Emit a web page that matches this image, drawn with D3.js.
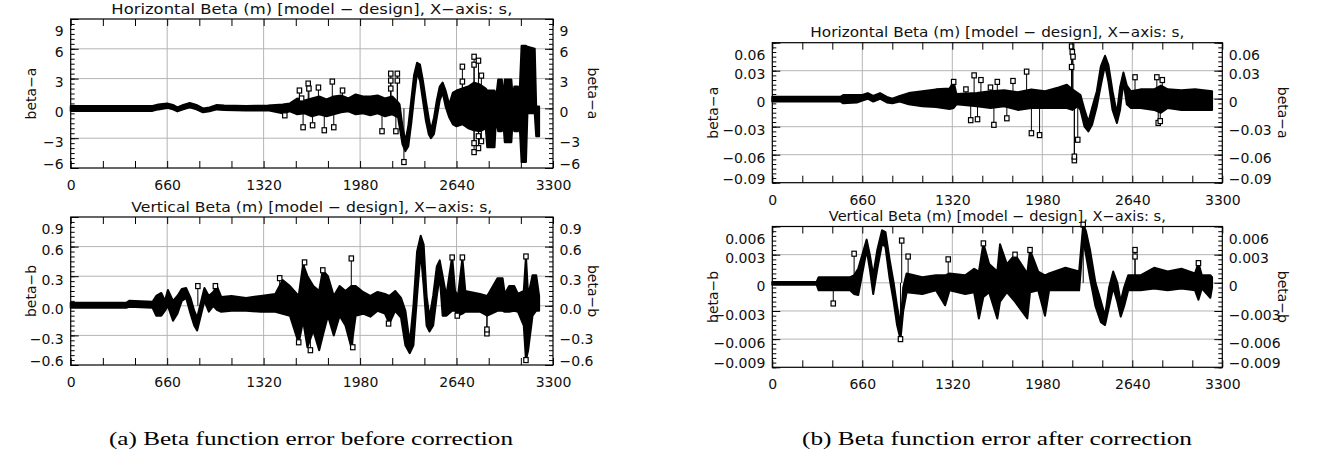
<!DOCTYPE html>
<html>
<head>
<meta charset="utf-8">
<script src="https://cdnjs.cloudflare.com/ajax/libs/d3/7.8.5/d3.min.js"></script>
<style>
  body { margin: 0; background: #fff; }
  svg { display: block; }
</style>
</head>
<body>
<script>
// ---- data (s in m, beta error in m) ----
var xTicks = [0, 660, 1320, 1980, 2640, 3300];

// (a) horizontal, before correction: envelope of the plotted trace
var hBeforeS  = [0, 560, 600, 660, 700, 730, 770, 815, 860, 905, 950, 1000, 1050, 1200, 1350, 1450, 1500, 1550, 1600, 1650, 1700, 1750, 1800, 1850, 1900, 1950, 2000, 2050, 2100, 2150, 2200, 2240, 2250, 2270, 2290, 2310, 2330, 2350, 2370, 2390, 2410, 2430, 2450, 2465, 2485, 2505, 2525, 2545, 2565, 2590, 2615, 2640, 2680, 2720, 2760, 2800, 2840, 2850, 2900, 2910, 2925, 2950, 2958, 2970, 3015, 3025, 3035, 3060, 3070, 3085, 3115, 3125, 3175, 3185, 3205];
var hBeforeLo = [-0.25, -0.25, -0.1, 0.05, -0.1, -0.3, -0.1, 0.1, -0.1, -0.4, -0.3, -0.1, -0.15, -0.2, -0.2, -0.5, -0.3, -0.6, -0.5, -0.8, -0.6, -0.8, -0.6, -0.4, -0.3, -0.6, -0.5, -0.7, -0.5, -0.8, -0.6, -0.9, -1.8, -3.6, -4.3, -3.8, -1.5, 1.2, 3.6, 2.8, 0.8, -1.2, -2.6, -3.0, -2.6, -0.9, 0.8, 1.6, 0.2, -0.9, -1.6, -1.8, -1.6, -2.0, -2.2, -2.3, -2.0, -3.9, -3.9, -1.0, -2.3, -2.3, -1.0, -3.4, -3.4, -1.0, -2.3, -2.3, -1.2, -5.4, -5.4, -0.5, -0.5, -2.8, -2.8];
var hBeforeHi = [0.25, 0.25, 0.4, 0.5, 0.35, 0.1, 0.35, 0.55, 0.35, 0.0, 0.1, 0.35, 0.3, 0.25, 0.3, 0.4, 0.5, 1.0, 0.8, 1.0, 1.2, 0.9, 1.2, 1.3, 1.0, 1.4, 1.2, 1.2, 1.3, 1.0, 1.2, 0.6, 0.4, -1.8, -3.3, -1.8, 0.8, 3.4, 4.6, 4.4, 2.8, 0.8, -1.0, -2.2, -1.0, 0.8, 2.2, 2.6, 1.8, 0.4, 1.6, 1.8, 2.0, 2.2, 2.6, 2.4, 2.0, 1.8, 1.8, 1.0, 2.9, 2.9, 1.0, 2.9, 2.9, 1.0, 2.2, 2.2, 1.0, 6.3, 6.3, 6.2, 6.0, 0.2, 0.2];
var hBeforeMarkS = [1465, 1565, 1580, 1590, 1625, 1630, 1655, 1695, 1735, 1790, 1800, 1860, 2130, 2190, 2190, 2190, 2235, 2235, 2225, 2280, 2680, 2680, 2760, 2760, 2760, 2760, 2790, 2790, 2790, 2810, 2810];
var hBeforeMarkV = [-0.7, 1.8, 1.0, -1.9, 2.5, 2.0, -1.7, 2.1, -2.2, 2.7, -1.9, 1.8, -2.3, 3.5, 2.8, 2.0, 3.5, 2.8, -2.3, -5.4, 4.2, 2.7, 5.2, 4.4, -4.4, -3.5, 4.8, -4.0, -2.8, 3.3, -3.3];

// (a) vertical, before correction
var vBeforeS  = [0, 380, 400, 560, 585, 620, 645, 665, 700, 730, 760, 790, 820, 845, 865, 890, 915, 945, 975, 1000, 1030, 1100, 1200, 1300, 1400, 1450, 1500, 1560, 1590, 1620, 1660, 1700, 1725, 1760, 1800, 1840, 1880, 1920, 1950, 2000, 2050, 2100, 2150, 2180, 2220, 2260, 2290, 2320, 2345, 2370, 2395, 2415, 2435, 2455, 2480, 2505, 2525, 2545, 2570, 2610, 2630, 2650, 2680, 2700, 2800, 2850, 2920, 2955, 2970, 3000, 3035, 3060, 3100, 3115, 3130, 3160, 3185, 3205];
var vBeforeLo = [-0.02, -0.02, -0.01, -0.02, -0.1, -0.1, -0.05, 0.0, -0.15, -0.08, 0.05, 0.08, -0.08, -0.2, -0.25, -0.1, 0.05, -0.06, 0.0, -0.04, -0.06, -0.05, -0.05, -0.06, -0.06, -0.08, -0.1, -0.38, -0.15, -0.42, -0.25, -0.45, -0.3, -0.1, -0.3, -0.1, -0.2, -0.42, -0.1, -0.08, -0.11, -0.05, -0.08, -0.18, -0.05, -0.12, -0.4, -0.48, -0.4, 0.1, 0.55, 0.2, -0.2, -0.26, -0.2, 0.1, 0.3, -0.1, -0.1, -0.05, -0.05, -0.1, -0.08, -0.06, -0.06, -0.1, -0.05, -0.05, -0.06, -0.06, -0.05, -0.06, -0.2, -0.55, -0.45, -0.1, -0.05, -0.05];
var vBeforeHi = [0.03, 0.03, 0.05, 0.04, 0.1, 0.13, 0.05, 0.16, 0.05, 0.1, 0.17, 0.18, 0.08, -0.05, -0.12, 0.03, 0.18, 0.1, 0.14, 0.2, 0.09, 0.1, 0.08, 0.1, 0.12, 0.26, 0.2, 0.1, 0.42, 0.3, 0.2, 0.15, 0.36, 0.3, 0.1, 0.2, 0.15, 0.2, 0.2, 0.14, 0.1, 0.14, 0.12, 0.1, 0.15, 0.08, -0.05, -0.38, 0.0, 0.55, 0.71, 0.62, 0.1, -0.12, 0.1, 0.4, 0.46, 0.3, 0.1, 0.5, 0.15, 0.1, 0.48, 0.15, 0.12, 0.1, 0.28, 0.28, 0.12, 0.2, 0.2, 0.12, 0.15, 0.5, 0.1, 0.31, 0.31, 0.1];
var vBeforeMarkS = [870, 990, 1430, 1600, 1560, 1640, 1725, 1920, 1930, 2175, 2610, 2680, 2645, 2848, 2848, 3115, 3115];
var vBeforeMarkV = [0.2, 0.2, 0.28, 0.44, -0.37, -0.45, 0.36, 0.48, -0.42, -0.18, 0.49, 0.49, -0.1, -0.28, -0.24, 0.5, -0.55];

// (b) horizontal, after correction
var hAfterS  = [0, 500, 520, 620, 660, 700, 740, 790, 840, 880, 935, 1000, 1100, 1200, 1300, 1330, 1350, 1500, 1600, 1700, 1800, 1900, 2000, 2100, 2160, 2200, 2240, 2260, 2290, 2318, 2345, 2380, 2410, 2440, 2465, 2495, 2527, 2550, 2575, 2600, 2630, 2700, 2800, 2850, 2900, 3000, 3100, 3225];
var hAfterLo = [-0.003, -0.003, -0.005, -0.004, -0.002, 0.0, -0.003, 0.0, -0.004, -0.005, -0.003, -0.006, -0.008, -0.009, -0.011, -0.01, -0.006, -0.008, -0.01, -0.008, -0.012, -0.01, -0.01, -0.01, -0.01, -0.012, -0.008, -0.012, -0.03, -0.035, -0.028, -0.008, 0.015, 0.036, 0.018, -0.012, -0.026, -0.012, 0.018, -0.006, -0.01, -0.01, -0.012, -0.015, -0.01, -0.012, -0.012, -0.012];
var hAfterHi = [0.002, 0.002, 0.004, 0.004, 0.004, 0.006, 0.003, 0.006, 0.002, 0.0, 0.003, 0.006, 0.008, 0.01, 0.011, 0.018, 0.005, 0.006, 0.008, 0.009, 0.007, 0.01, 0.008, 0.012, 0.015, 0.01, 0.006, 0.004, -0.012, -0.025, -0.01, 0.008, 0.035, 0.046, 0.036, 0.008, -0.016, 0.012, 0.028, 0.014, 0.008, 0.01, 0.01, 0.014, 0.01, 0.009, 0.01, 0.008];
var hAfterMarkS = [1330, 1420, 1455, 1480, 1505, 1530, 1600, 1625, 1650, 1720, 1765, 1865, 1900, 1960, 2195, 2200, 2205, 2195, 2215, 2215, 2240, 2660, 2820, 2830, 2845, 2860];
var hAfterMarkV = [0.018, 0.01, -0.023, 0.025, -0.022, 0.02, 0.012, -0.028, 0.018, -0.021, 0.019, 0.029, -0.037, -0.039, 0.056, 0.05, 0.045, 0.034, -0.066, -0.062, -0.044, 0.023, 0.023, -0.026, -0.024, 0.02];

// (b) vertical, after correction
var vAfterS  = [0, 325, 340, 570, 600, 630, 660, 692, 715, 740, 770, 805, 830, 860, 890, 915, 940, 960, 985, 1100, 1200, 1267, 1300, 1415, 1480, 1515, 1548, 1590, 1650, 1670, 1720, 1780, 1870, 1890, 1950, 2000, 2030, 2150, 2250, 2280, 2300, 2330, 2370, 2410, 2440, 2470, 2500, 2530, 2555, 2580, 2610, 2700, 2800, 2900, 3000, 3100, 3125, 3150, 3212, 3225];
var vAfterLo = [-0.0002, -0.0002, -0.0008, -0.0008, -0.0012, -0.0013, 0.001, 0.0035, 0.0015, -0.0012, 0.0015, 0.0042, 0.0038, 0.0005, -0.002, -0.0045, -0.006, -0.003, -0.001, -0.0012, -0.0008, -0.0024, -0.0008, -0.0012, -0.001, -0.0038, -0.0015, -0.001, -0.0038, -0.002, -0.001, -0.002, -0.0038, -0.001, -0.0008, -0.0035, -0.0008, -0.0008, -0.0008, 0.0045, 0.003, 0.0005, -0.0025, -0.0042, -0.0045, -0.0025, -0.0005, -0.002, -0.0036, -0.0025, -0.0008, -0.0008, -0.0006, -0.0008, -0.0006, -0.0008, -0.0018, -0.0006, -0.0016, -0.0005];
var vAfterHi = [0.0001, 0.0001, 0.0006, 0.0006, 0.0008, 0.0015, 0.003, 0.0046, 0.003, 0.0008, 0.0035, 0.0056, 0.0054, 0.0025, 0.0, -0.0025, -0.0045, -0.0005, 0.001, 0.0006, 0.0008, 0.0008, 0.001, 0.0008, 0.0015, 0.0012, 0.0042, 0.002, 0.0012, 0.0041, 0.002, 0.003, 0.001, 0.0035, 0.0012, 0.0008, 0.001, 0.0016, 0.0012, 0.0062, 0.0055, 0.0035, 0.0, -0.002, -0.0035, -0.0005, 0.0012, 0.0, -0.002, -0.0005, 0.0008, 0.0008, 0.0016, 0.0012, 0.0015, 0.001, 0.0021, 0.0008, 0.0008, 0.0006];
var vAfterMarkS = [447, 600, 949, 996, 1290, 1548, 1780, 1890, 2280, 2660, 2660, 3125, 940];
var vAfterMarkV = [-0.0022, 0.0031, 0.0045, 0.0028, 0.0025, 0.0042, 0.003, 0.0035, 0.0062, 0.0035, 0.0028, 0.0021, -0.006];

var yTicksHBefore = [-6, -3, 0, 3, 6, 9];
var yLabelsHBefore = ['\u22126', '\u22123', '0', '3', '6', '9'];
var yTicksVBefore = [-0.6, -0.3, 0, 0.3, 0.6, 0.9];
var yLabelsVBefore = ['\u22120.6', '\u22120.3', '0.0', '0.3', '0.6', '0.9'];
var yTicksHAfter = [-0.09, -0.06, -0.03, 0, 0.03, 0.06];
var yLabelsHAfter = ['\u22120.09', '\u22120.06', '\u22120.03', '0', '0.03', '0.06'];
var yTicksVAfter = [-0.009, -0.006, -0.003, 0, 0.003, 0.006];
var yLabelsVAfter = ['\u22120.009', '\u22120.006', '\u22120.003', '0', '0.003', '0.006'];

var titleH = 'Horizontal Beta (m) [model \u2212 design], X\u2212axis: s,';
var titleV = 'Vertical Beta (m) [model \u2212 design], X\u2212axis: s,';

// ---- layout ----
var W = 1321, H = 454;
var FONT = "'DejaVu Sans', sans-serif";

var svg = d3.select('body').append('svg')
  .attr('width', W)
  .attr('height', H);

var panels = [
  { left: 70.7, right: 553, top: 19, bottom: 168, yTicks: yTicksHBefore, yLabels: yLabelsHBefore,
    s: hBeforeS, lo: hBeforeLo, hi: hBeforeHi, ms: hBeforeMarkS, mv: hBeforeMarkV,
    title: titleH, titleLen: 401, ylab: 'beta\u2212a', ylabL: 31, ylabR: 593 },
  { left: 70.7, right: 553, top: 217, bottom: 365, yTicks: yTicksVBefore, yLabels: yLabelsVBefore,
    s: vBeforeS, lo: vBeforeLo, hi: vBeforeHi, ms: vBeforeMarkS, mv: vBeforeMarkV,
    title: titleV, titleLen: 361, ylab: 'beta\u2212b', ylabL: 31, ylabR: 593 },
  { left: 772.3, right: 1222.3, top: 42.7, bottom: 182.7, yTicks: yTicksHAfter, yLabels: yLabelsHAfter,
    s: hAfterS, lo: hAfterLo, hi: hAfterHi, ms: hAfterMarkS, mv: hAfterMarkV,
    title: titleH, titleLen: 374, ylab: 'beta\u2212a', ylabL: 712.5, ylabR: 1283 },
  { left: 772.3, right: 1222.3, top: 226.5, bottom: 367.3, yTicks: yTicksVAfter, yLabels: yLabelsVAfter,
    s: vAfterS, lo: vAfterLo, hi: vAfterHi, ms: vAfterMarkS, mv: vAfterMarkV,
    title: titleV, titleLen: 337, ylab: 'beta\u2212b', ylabL: 712.5, ylabR: 1283 }
];

function styleAxis(g) {
  g.select('.domain').remove();
  g.selectAll('line').attr('stroke', '#000').attr('stroke-width', 1);
  g.selectAll('text').attr('font-family', FONT).attr('font-size', 14).attr('fill', '#111');
}

panels.forEach(function(p) {
  var x = d3.scaleLinear().domain([0, 3300]).range([p.left, p.right]);
  var y = d3.scaleLinear().domain([p.yTicks[0], p.yTicks[p.yTicks.length - 1]]).range([p.bottom, p.top]);
  var g = svg.append('g');

  // grid
  g.append('g').selectAll('line').data(xTicks.slice(1, -1)).join('line')
    .attr('x1', d => x(d)).attr('x2', d => x(d))
    .attr('y1', p.top).attr('y2', p.bottom)
    .attr('stroke', '#b4b4b4').attr('stroke-width', 1);
  g.append('g').selectAll('line').data(p.yTicks.slice(1, -1)).join('line')
    .attr('x1', p.left).attr('x2', p.right)
    .attr('y1', d => y(d)).attr('y2', d => y(d))
    .attr('stroke', '#b4b4b4').attr('stroke-width', 1);

  // trace envelope
  var rows = p.s.map((s, i) => ({ s: s, lo: p.lo[i], hi: p.hi[i] }));
  var area = d3.area().x(d => x(d.s)).y0(d => y(d.lo)).y1(d => y(d.hi));
  g.append('path').datum(rows)
    .attr('d', area)
    .attr('fill', '#000').attr('stroke', '#000')
    .attr('stroke-width', 2).attr('stroke-linejoin', 'round');

  // outlying symbols
  var marks = p.ms.map((s, i) => ({ s: s, v: p.mv[i] }));
  g.append('g').selectAll('line').data(marks).join('line')
    .attr('x1', d => x(d.s)).attr('x2', d => x(d.s))
    .attr('y1', y(0)).attr('y2', d => y(d.v))
    .attr('stroke', '#000').attr('stroke-width', 1);
  g.append('g').selectAll('rect').data(marks).join('rect')
    .attr('x', d => x(d.s) - 2.2).attr('y', d => y(d.v) - 2.5)
    .attr('width', 4.4).attr('height', 5)
    .attr('fill', '#fff').attr('stroke', '#000').attr('stroke-width', 1.2);

  // frame
  g.append('rect')
    .attr('x', p.left).attr('y', p.top)
    .attr('width', p.right - p.left).attr('height', p.bottom - p.top)
    .attr('fill', 'none').attr('stroke', '#000').attr('stroke-width', 1.2);

  // x ticks (inward, top and bottom)
  var xMinor = d3.range(0, 3301, 220);
  g.append('g').attr('transform', 'translate(0,' + p.bottom + ')')
    .call(d3.axisBottom(x).tickValues(xMinor).tickSize(-7).tickFormat(''))
    .call(styleAxis);
  g.append('g').attr('transform', 'translate(0,' + p.top + ')')
    .call(d3.axisTop(x).tickValues(xMinor).tickSize(-7).tickFormat(''))
    .call(styleAxis);
  g.append('g').attr('transform', 'translate(0,' + p.bottom + ')')
    .call(d3.axisBottom(x).tickValues(xTicks).tickSize(0).tickPadding(12).tickFormat(d3.format('d')))
    .call(styleAxis);

  // y ticks (inward, left and right, with minors)
  var step = (p.yTicks[1] - p.yTicks[0]) / 6;
  var yMinor = d3.range(0, 31).map(i => p.yTicks[0] + i * step);
  [[d3.axisLeft, p.left], [d3.axisRight, p.right]].forEach(function(a) {
    g.append('g').attr('transform', 'translate(' + a[1] + ',0)')
      .call(a[0](y).tickValues(yMinor).tickSize(-4).tickFormat(''))
      .call(styleAxis);
    g.append('g').attr('transform', 'translate(' + a[1] + ',0)')
      .call(a[0](y).tickValues(p.yTicks).tickSize(-8).tickFormat(''))
      .call(styleAxis);
  });

  // y tick labels, kept inside the frame height
  var ly = d => Math.max(p.top + 12, Math.min(p.bottom - 4, y(d) + 3.5));
  g.append('g').selectAll('text').data(p.yTicks).join('text')
    .attr('x', p.left - 7).attr('y', d => ly(d)).attr('dy', '0.36em')
    .attr('text-anchor', 'end')
    .attr('font-family', FONT).attr('font-size', 14).attr('fill', '#111')
    .text((d, i) => p.yLabels[i]);
  g.append('g').selectAll('text').data(p.yTicks).join('text')
    .attr('x', p.right + 6.5).attr('y', d => ly(d)).attr('dy', '0.36em')
    .attr('text-anchor', 'start')
    .attr('font-family', FONT).attr('font-size', 14).attr('fill', '#111')
    .text((d, i) => p.yLabels[i]);

  // axis names
  var cy = (p.top + p.bottom) / 2;
  g.append('text')
    .attr('transform', 'translate(' + p.ylabL + ',' + cy + ') rotate(-90)')
    .attr('text-anchor', 'middle').attr('dy', '0.36em')
    .attr('font-family', FONT).attr('font-size', 14).attr('fill', '#111')
    .text(p.ylab);
  g.append('text')
    .attr('transform', 'translate(' + p.ylabR + ',' + cy + ') rotate(90)')
    .attr('text-anchor', 'middle').attr('dy', '0.36em')
    .attr('font-family', FONT).attr('font-size', 14).attr('fill', '#111')
    .text(p.ylab);

  // title
  g.append('text')
    .attr('x', (p.left + p.right) / 2).attr('y', p.top - 5.5)
    .attr('text-anchor', 'middle')
    .attr('textLength', p.titleLen).attr('lengthAdjust', 'spacingAndGlyphs')
    .attr('font-family', FONT).attr('font-size', 14).attr('fill', '#111')
    .text(p.title);
});

// captions
var captions = [
  { text: '(a) Beta function error before correction', x: 311, len: 404 },
  { text: '(b) Beta function error after correction', x: 997, len: 390 }
];
svg.append('g').selectAll('text').data(captions).join('text')
  .attr('x', d => d.x).attr('y', 445)
  .attr('text-anchor', 'middle')
  .attr('textLength', d => d.len).attr('lengthAdjust', 'spacingAndGlyphs')
  .attr('font-family', "'Liberation Serif', 'DejaVu Serif', serif")
  .attr('font-size', 19.5).attr('fill', '#000')
  .text(d => d.text);
</script>
</body>
</html>
